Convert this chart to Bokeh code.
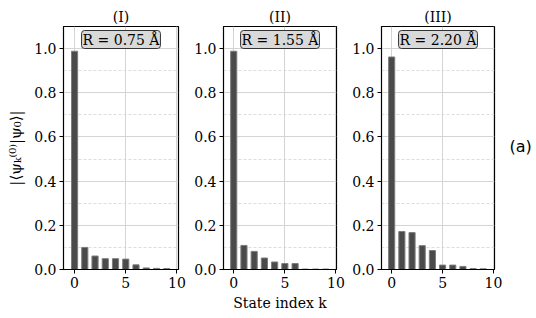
from bokeh.plotting import figure
from bokeh.layouts import row
from bokeh.models import FixedTicker, Label, Range1d, PrintfTickFormatter
from bokeh.embed import file_html
from bokeh.resources import INLINE

# ---- data ----
states = [0, 1, 2, 3, 4, 5, 6, 7, 8, 9]
overlap_I = [0.988, 0.100, 0.061, 0.049, 0.049, 0.047, 0.021, 0.007, 0.005, 0.004]
overlap_II = [0.988, 0.109, 0.082, 0.052, 0.034, 0.027, 0.027, 0.002, 0.002, 0.002]
overlap_III = [0.962, 0.172, 0.167, 0.108, 0.086, 0.020, 0.020, 0.014, 0.004, 0.003]
panel_titles = ["(I)", "(II)", "(III)"]
panel_R = ["R = 0.75 Å", "R = 1.55 Å", "R = 2.20 Å"]
x_ticks = [0, 5, 10]
y_ticks = [0.0, 0.2, 0.4, 0.6, 0.8, 1.0]
y_minor = [0.1, 0.3, 0.5, 0.7, 0.9]

SERIF = "DejaVu Serif"
series = [overlap_I, overlap_II, overlap_III]
x_ranges = [(-1.08, 10.15), (-1.0, 10.05), (-1.0, 10.1)]
left_b = [63, 35, 35]
frame_w = [115, 113, 113]
right_b = [10, 10, 10]

figs = []
for i in range(3):
    p = figure(output_backend="svg", toolbar_location=None,
               frame_width=frame_w[i], frame_height=243,
               min_border_left=left_b[i], min_border_right=right_b[i],
               min_border_top=26, min_border_bottom=49,
               x_range=Range1d(*x_ranges[i]), y_range=Range1d(0, 1.1))
    p.background_fill_color = "white"
    p.border_fill_color = "white"
    p.outline_line_color = "black"
    p.outline_line_width = 1.2

    p.title.text = panel_titles[i]
    p.title.align = "center"
    p.title.text_font = SERIF
    p.title.text_font_size = "14px"
    p.title.text_font_style = "normal"
    p.title.text_color = "black"
    p.title.standoff = 3

    p.vbar(x=states, top=series[i], width=0.6, bottom=0,
           fill_color="#4a4a4a", line_color="#7c7c7c", line_width=1)

    p.xaxis.ticker = FixedTicker(ticks=x_ticks)
    p.yaxis.ticker = FixedTicker(ticks=y_ticks, minor_ticks=y_minor)
    p.yaxis.formatter = PrintfTickFormatter(format="%.1f")
    for ax in (p.xaxis[0], p.yaxis[0]):
        ax.axis_line_color = "black"
        ax.major_tick_line_color = "black"
        ax.major_tick_out = 4
        ax.major_tick_in = 0
        ax.minor_tick_out = 0
        ax.minor_tick_in = 0
        ax.major_label_text_font = SERIF
        ax.major_label_text_font_size = "14px"
        ax.major_label_text_color = "black"
        ax.major_label_standoff = 3
        ax.axis_label_text_color = "black"

    p.xgrid.grid_line_color = "#d4d4d4"
    p.xgrid.grid_line_width = 1
    p.ygrid.grid_line_color = "#d4d4d4"
    p.ygrid.grid_line_width = 1
    p.ygrid.minor_grid_line_color = "#d4d4d4"
    p.ygrid.minor_grid_line_dash = "3 2"
    p.ygrid.minor_grid_line_width = 0.8

    xc = (x_ranges[i][0] + x_ranges[i][1]) / 2
    p.add_layout(Label(x=xc, y=1.1, y_offset=-4, text=panel_R[i],
                       text_align="center", text_baseline="top",
                       text_font=SERIF, text_font_size="14px", text_color="black",
                       background_fill_color="#d9d9d9", background_fill_alpha=1,
                       border_line_color="#333333", border_line_width=1,
                       padding=1, border_radius=3))
    figs.append(p)

figs[0].yaxis.axis_label = "|⟨ψₖ⁽⁰⁾|ψ₀⟩|"
figs[0].yaxis.axis_label_text_font = SERIF
figs[0].yaxis.axis_label_text_font_size = "15px"
figs[0].yaxis.axis_label_text_font_style = "normal"
figs[0].yaxis.axis_label_standoff = 6

figs[1].xaxis.axis_label = "State index k"
figs[1].xaxis.axis_label_text_font = SERIF
figs[1].xaxis.axis_label_text_font_size = "14px"
figs[1].xaxis.axis_label_text_font_style = "normal"
figs[1].xaxis.axis_label_standoff = 4

# side panel holding the "(a)" tag
tag = figure(output_backend="svg", toolbar_location=None,
             frame_width=32, frame_height=243,
             min_border_left=0, min_border_right=0,
             min_border_top=26, min_border_bottom=49,
             x_range=Range1d(0, 1), y_range=Range1d(0, 1.1),
             x_axis_location=None, y_axis_location=None)
tag.outline_line_color = None
tag.grid.visible = False
tag.add_layout(Label(x=0, y=0.555, x_offset=5, text="(a)", text_align="left",
                     text_baseline="middle", text_font="DejaVu Sans",
                     text_font_size="16px", text_color="black"))

layout = row(*figs, tag, spacing=0)
open("out.html", "w").write(file_html(layout, INLINE))
